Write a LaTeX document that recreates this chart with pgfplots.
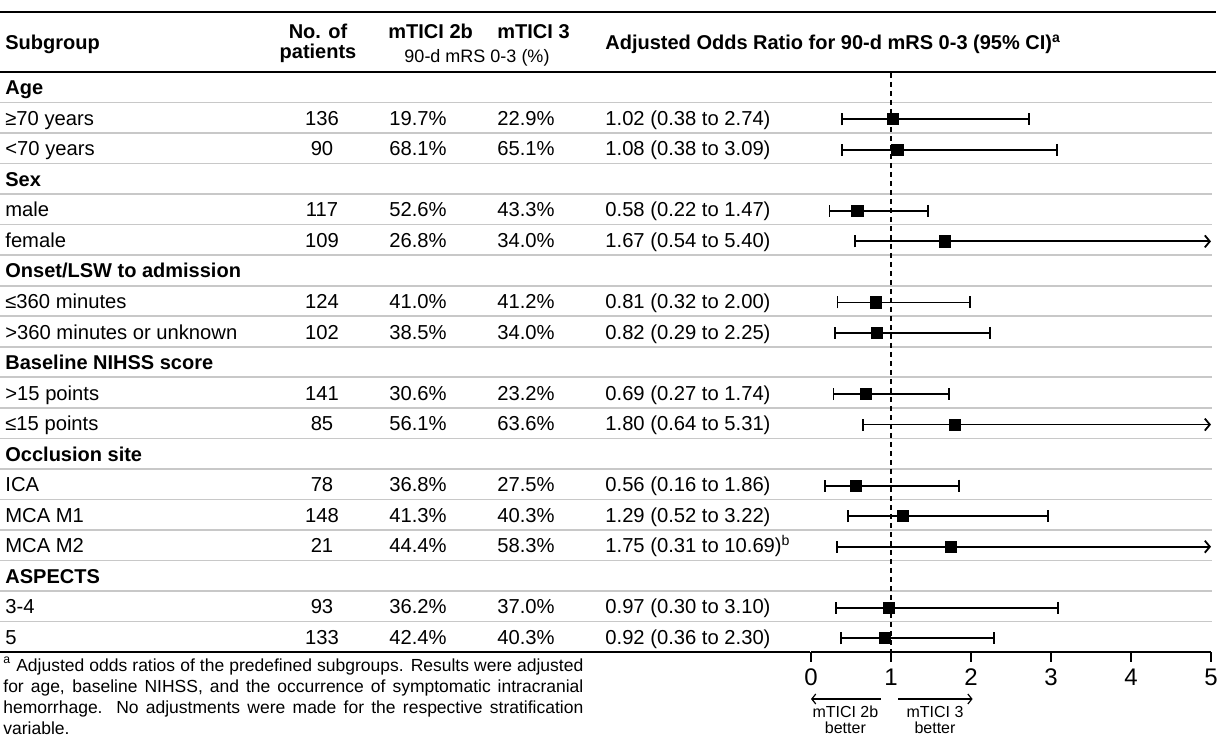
\documentclass[border=0pt]{standalone}
\usepackage{pgfplots}
\pgfplotsset{compat=1.18}
\usepackage{pgfplotstable}
\usepackage{fontspec}
\setmainfont{Liberation Sans}
\usetikzlibrary{arrows.meta}
\definecolor{rulegray}{HTML}{C8C8C8}

\pgfplotstableread{
y or
-119.3 1.02
-149.8 1.08
-210.9 0.58
-241.4 1.67
-302.5 0.81
-333.0 0.82
-394.1 0.69
-424.6 1.80
-485.7 0.56
-516.2 1.15
-546.7 1.75
-607.8 0.97
-638.3 0.92
}\ORdata

\newcommand{\bodyfont}{\fontsize{10.1}{12}\selectfont}
\newcommand{\headfont}{\fontsize{10}{12}\selectfont\bfseries}
\newcommand{\grp}[2]{\node[anchor=base west,font=\headfont,inner sep=0] at (axis cs:5,{#1+7.5}) {#2};}
\newcommand{\rw}[6]{%
  \node[anchor=base west,font=\bodyfont,inner sep=0] at (axis cs:5,{#1+7.5}) {#2};
  \node[anchor=base,font=\bodyfont,inner sep=0] at (axis cs:322,{#1+7.5}) {#3};
  \node[anchor=base west,font=\bodyfont,inner sep=0] at (axis cs:389,{#1+7.5}) {#4};
  \node[anchor=base west,font=\bodyfont,inner sep=0] at (axis cs:497,{#1+7.5}) {#5};
  \node[anchor=base west,font=\bodyfont,inner sep=0] at (axis cs:605,{#1+7.5}) {#6};
}

\begin{document}
\begin{tikzpicture}
% ---------- frame axis in pixel units ----------
\begin{axis}[
  at={(0pt,0pt)}, anchor=south west, scale only axis,
  width=610.5pt, height=368.5pt,
  xmin=0, xmax=1221, ymin=0, ymax=737, y dir=reverse,
  axis lines=none, clip=false, xtick=\empty, ytick=\empty]
  % gray separators
  \pgfplotsinvokeforeach{1,...,18}{
    \draw[rulegray, line width=0.85pt] (axis cs:0,{72+30.53*#1}) -- (axis cs:1212,{72+30.53*#1});
  }
  % black rules
  \draw[black, line width=1.1pt] (axis cs:0,12) -- (axis cs:1216,12);
  \draw[black, line width=1.1pt] (axis cs:0,72) -- (axis cs:1216,72);
  \draw[black, line width=1.1pt] (axis cs:0,652) -- (axis cs:810,652);
  % header
  \node[anchor=base west,font=\headfont,inner sep=0] at (axis cs:5,50) {Subgroup};
  \node[anchor=base,font=\headfont,inner sep=0] at (axis cs:318,39) {No. of};
  \node[anchor=base,font=\headfont,inner sep=0] at (axis cs:318,59) {patients};
  \node[anchor=base west,font=\headfont,inner sep=0] at (axis cs:388,39) {mTICI 2b};
  \node[anchor=base west,font=\headfont,inner sep=0] at (axis cs:497,39) {mTICI 3};
  \node[anchor=base,font=\fontsize{9}{10}\selectfont,inner sep=0] at (axis cs:477,63) {90-d mRS 0-3 (\%)};
  \node[anchor=base west,font=\headfont,inner sep=0] at (axis cs:605,50) {Adjusted Odds Ratio for 90-d mRS 0-3 (95\% CI)\textsuperscript{a}};
  % body
  \grp{87.27}{Age}
  \rw{117.80}{≥70 years}{136}{19.7\%}{22.9\%}{1.02 (0.38 to 2.74)}
  \rw{148.33}{<70 years}{90}{68.1\%}{65.1\%}{1.08 (0.38 to 3.09)}
  \grp{178.86}{Sex}
  \rw{209.39}{male}{117}{52.6\%}{43.3\%}{0.58 (0.22 to 1.47)}
  \rw{239.92}{female}{109}{26.8\%}{34.0\%}{1.67 (0.54 to 5.40)}
  \grp{270.45}{Onset/LSW to admission}
  \rw{300.98}{≤360 minutes}{124}{41.0\%}{41.2\%}{0.81 (0.32 to 2.00)}
  \rw{331.51}{>360 minutes or unknown}{102}{38.5\%}{34.0\%}{0.82 (0.29 to 2.25)}
  \grp{362.04}{Baseline NIHSS score}
  \rw{392.57}{>15 points}{141}{30.6\%}{23.2\%}{0.69 (0.27 to 1.74)}
  \rw{423.10}{≤15 points}{85}{56.1\%}{63.6\%}{1.80 (0.64 to 5.31)}
  \grp{453.63}{Occlusion site}
  \rw{484.16}{ICA}{78}{36.8\%}{27.5\%}{0.56 (0.16 to 1.86)}
  \rw{514.69}{MCA M1}{148}{41.3\%}{40.3\%}{1.29 (0.52 to 3.22)}
  \rw{545.22}{MCA M2}{21}{44.4\%}{58.3\%}{1.75 (0.31 to 10.69)\textsuperscript{b}}
  \grp{575.75}{ASPECTS}
  \rw{606.28}{3-4}{93}{36.2\%}{37.0\%}{0.97 (0.30 to 3.10)}
  \rw{636.81}{5}{133}{42.4\%}{40.3\%}{0.92 (0.36 to 2.30)}
  % footnote
  \node[anchor=north west, text width=290pt, align=justify, inner sep=0,
        font=\fontsize{8.75}{10.5}\selectfont] at (axis cs:3,656.5)
    {\hyphenpenalty=10000\exhyphenpenalty=10000\emergencystretch=2em
     \textsuperscript{a} Adjusted odds ratios of the predefined subgroups. Results were adjusted for age, baseline NIHSS, and the occurrence of symptomatic intracranial hemorrhage. No adjustments were made for the respective stratification variable.};
\end{axis}
% ---------- forest axis ----------
\begin{axis}[
  at={(405.5pt,42.5pt)}, anchor=south west, scale only axis,
  width=200pt, height=290pt,
  xmin=0, xmax=5, ymin=-652, ymax=-72,
  axis x line*=bottom, axis y line=none,
  axis line style={line width=1.1pt, -},
  xtick={0,1,2,3,4,5}, ytick=\empty,
  tick align=outside, major tick length=5pt,
  x tick style={line width=1pt, black},
  x tick label style={font=\fontsize{12}{14}\selectfont, yshift=0pt},
  /pgf/number format/assume math mode=true,
  clip=false]
  \addplot[black, line width=0.9pt, dash pattern=on 2.5pt off 2pt] coordinates {(1,-73) (1,-652)};
  \tikzset{wh/.style={black, line width=0.9pt, {Bar[width=6pt,line width=0.9pt]}-{Bar[width=6pt,line width=0.9pt]}},
           wa/.style={black, line width=0.9pt, {Bar[width=6pt,line width=0.9pt]}-{Straight Barb[length=2.5pt,width=6pt,line width=0.9pt]}}}
  \addplot[wh] coordinates {(0.38,-119.3) (2.74,-119.3)};
  \addplot[wh] coordinates {(0.38,-149.8) (3.09,-149.8)};
  \addplot[wh] coordinates {(0.22,-210.9) (1.47,-210.9)};
  \addplot[wa] coordinates {(0.54,-241.4) (5,-241.4)};
  \addplot[wh] coordinates {(0.32,-302.5) (2.00,-302.5)};
  \addplot[wh] coordinates {(0.29,-333.0) (2.25,-333.0)};
  \addplot[wh] coordinates {(0.27,-394.1) (1.74,-394.1)};
  \addplot[wa] coordinates {(0.64,-424.6) (5,-424.6)};
  \addplot[wh] coordinates {(0.16,-485.7) (1.86,-485.7)};
  \addplot[wh] coordinates {(0.45,-516.2) (2.97,-516.2)};
  \addplot[wa] coordinates {(0.31,-546.7) (5,-546.7)};
  \addplot[wh] coordinates {(0.30,-607.8) (3.10,-607.8)};
  \addplot[wh] coordinates {(0.36,-638.3) (2.30,-638.3)};
  \addplot[only marks, mark=square*, mark size=2.8pt, black] table[x=or, y=y] {\ORdata};
  % direction arrows
  \draw[black, line width=0.6pt, -{Straight Barb[length=2pt,width=5pt]}] (axis cs:0.87,-699) -- (axis cs:0.0,-699);
  \draw[black, line width=0.6pt, -{Straight Barb[length=2pt,width=5pt]}] (axis cs:1.09,-699) -- (axis cs:2.02,-699);
  \node[anchor=base, inner sep=0, font=\fontsize{8}{8}\selectfont] at (axis cs:0.43,-718) {mTICI 2b};
  \node[anchor=base, inner sep=0, font=\fontsize{8}{8}\selectfont] at (axis cs:0.43,-734) {better};
  \node[anchor=base, inner sep=0, font=\fontsize{8}{8}\selectfont] at (axis cs:1.55,-718) {mTICI 3};
  \node[anchor=base, inner sep=0, font=\fontsize{8}{8}\selectfont] at (axis cs:1.55,-734) {better};
\end{axis}
\pgfresetboundingbox
\useasboundingbox (0pt,0pt) rectangle (610.5pt,368.5pt);
\end{tikzpicture}
\end{document}
